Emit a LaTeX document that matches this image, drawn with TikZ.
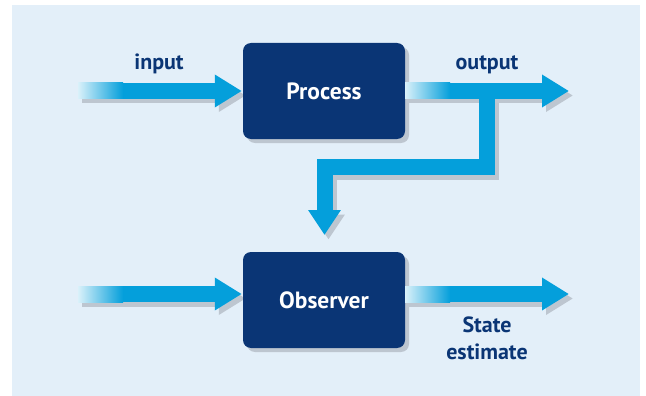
\documentclass[tikz,border=0pt]{standalone}
\usepackage{fontspec}
\setmainfont{PT Sans}
\usetikzlibrary{arrows.meta,shadows,calc}
\definecolor{bgc}{HTML}{E3EFF9}
\definecolor{navy}{HTML}{0A3575}
\definecolor{cyanc}{HTML}{049FDB}
\definecolor{shd}{HTML}{BDC6D0}
\pgfdeclarelayer{bglayer}
\pgfdeclarelayer{shlayer}
\pgfsetlayers{bglayer,shlayer,main}
\begin{document}
\begin{tikzpicture}[x=1pt,y=-1pt,
  box/.style={fill=navy, rounded corners=8pt, minimum width=162pt, minimum height=96pt,
    text=white, font=\bfseries\fontsize{23.5}{26}\selectfont, inner sep=0pt,
    drop shadow={shadow xshift=4pt, shadow yshift=-4pt, fill=shd, opacity=1}},
  lbl/.style={text=navy, font=\bfseries\fontsize{22}{27}\selectfont, inner sep=0pt, align=center},
  flow/.style={line width=16pt, line join=miter, -{Triangle[length=27pt,width=31pt]}},
  fbflow/.style={line width=16pt, line join=miter, -{Triangle[length=25pt,width=31pt]}},
  fade/.style={left color=white!85!cyanc, right color=cyanc},
  shadowed/.style={transform canvas={xshift=4pt,yshift=-4.5pt}}]
\useasboundingbox (0,0) rectangle (646,396);
\begin{pgfonlayer}{bglayer}
  \fill[bgc] (12,5) rectangle (640,396);
\end{pgfonlayer}

\node[box] (P) at (324,91) {Process};
\node[box] (O) at (324,300) {Observer};

\coordinate (inS) at (78,91);
\coordinate (inT) at ($(P.west)+(-1,0)$);
\coordinate (outS) at (P.east);
\coordinate (outT) at (569,91);
\coordinate (br) at (487,91);
\coordinate (fbT) at (324.5,235);
\coordinate (in2S) at (78,294);
\coordinate (in2T) at ($(O.west)+(-1,-6)$);
\coordinate (seS) at ($(O.east)+(0,-6)$);
\coordinate (seT) at (569,294);

\begin{pgfonlayer}{shlayer}
  \begin{scope}[shadowed]
    \draw[flow, shd] (inS) -- (inT);
    \draw[flow, shd] (outS) -- (outT);
    \draw[fbflow, shd] (br) -- ++(0,76) -| (fbT);
    \draw[flow, shd] (in2S) -- (in2T);
    \draw[flow, shd] (seS) -- (seT);
  \end{scope}
\end{pgfonlayer}

\draw[flow, cyanc] (inS) -- (inT);
\draw[fbflow, cyanc] (br) -- ++(0,76) -| (fbT);
\draw[flow, cyanc] (outS) -- (outT);
\draw[flow, cyanc] (in2S) -- (in2T);
\draw[flow, cyanc] (seS) -- (seT);

\shade[fade] ($(inS)+(0,-8)$) rectangle ++(45,16);
\shade[fade] ($(outS)+(0,-8)$) rectangle ++(45,16);
\shade[fade] ($(in2S)+(0,-8)$) rectangle ++(45,16);
\shade[fade] ($(seS)+(0,-8)$) rectangle ++(45,16);

\node[lbl, anchor=base] (lin) at (159,70) {input};
\node[lbl, anchor=base] (lout) at (487,69.5) {output};
\node[lbl] (lse) at (487,338) {State\\estimate};
\end{tikzpicture}
\end{document}
